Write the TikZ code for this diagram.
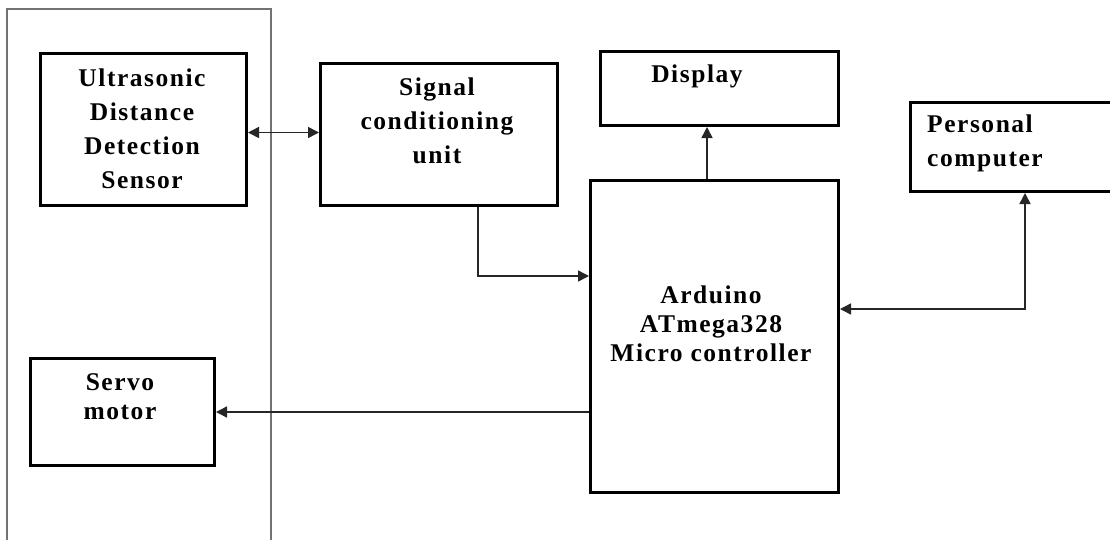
\documentclass[tikz,border=0pt]{standalone}
\usepackage{fontspec}
\setmainfont{Liberation Serif}
\newfontfamily\spacedserif[LetterSpace=6]{Liberation Serif}
\usetikzlibrary{arrows.meta}
\begin{document}
\begin{tikzpicture}[x=1pt,y=-1pt,
  box/.style={draw=black, line width=3pt, inner sep=0pt, anchor=north west},
  lbl/.style={align=center, inner sep=0pt, font=\spacedserif\bfseries\fontsize{25.5}{34}\selectfont},
  lbls/.style={align=center, inner sep=0pt, font=\spacedserif\bfseries\fontsize{25.5}{29}\selectfont},
  conn/.style={draw=black!85, line width=1.5pt, -{Triangle[length=11pt,width=11pt]}},
  conn2/.style={draw=black!85, line width=1.5pt, {Triangle[length=11pt,width=11pt]}-{Triangle[length=11pt,width=11pt]}},
  panel/.style={draw=black!55, line width=1.5pt}]
\useasboundingbox (0,0) rectangle (1110,539);
\fill[white] (0,0) rectangle (1110,539);
% left panel
\draw[panel] (7,545) -- (7,9) -- (271,9) -- (271,545);
% boxes
\node[box, minimum width=206pt, minimum height=152pt] (us) at (39,52) {};
\node[box, minimum width=237pt, minimum height=142pt] (sig) at (319,62) {};
\node[box, minimum width=238pt, minimum height=74pt] (disp) at (599,50) {};
\node[box, minimum width=210pt, minimum height=89pt] (pc) at (909,101) {};
\node[box, minimum width=248pt, minimum height=312pt] (ard) at (589,179) {};
\node[box, minimum width=184pt, minimum height=107pt] (servo) at (29,357) {};
% labels
\node[lbl] (usl) at (142,129) {Ultrasonic\\Distance\\Detection\\Sensor};
\node[lbl] (sigl) at (437,121) {Signal\\conditioning\\unit};
\node[lbl] (displ) at (697,76) {Display};
\node[lbl, align=left, anchor=west] (pcl) at (927,143) {Personal\\computer};
\node[lbls] (ardl) at (711,324) {Arduino\\ATmega328\\Micro controller};
\node[lbls] (servol) at (120,397) {Servo\\motor};
% connectors
\coordinate (b1) at (478,276);
\coordinate (dx) at (707,150);
\coordinate (b2) at (1025,309);
\draw[conn2] ([yshift=-3pt]us.east) -- ([yshift=-3pt]us.east -| sig.west);
\draw[conn] (sig.south -| b1) -- (b1) -- (b1 -| ard.west);
\draw[conn] (ard.north -| dx) -- (disp.south -| dx);
\draw[conn2] (pc.south -| b2) -- (b2) -- (b2 -| ard.east);
\draw[conn] (servo.east -| ard.west) -- (servo.east);
\end{tikzpicture}
\end{document}
